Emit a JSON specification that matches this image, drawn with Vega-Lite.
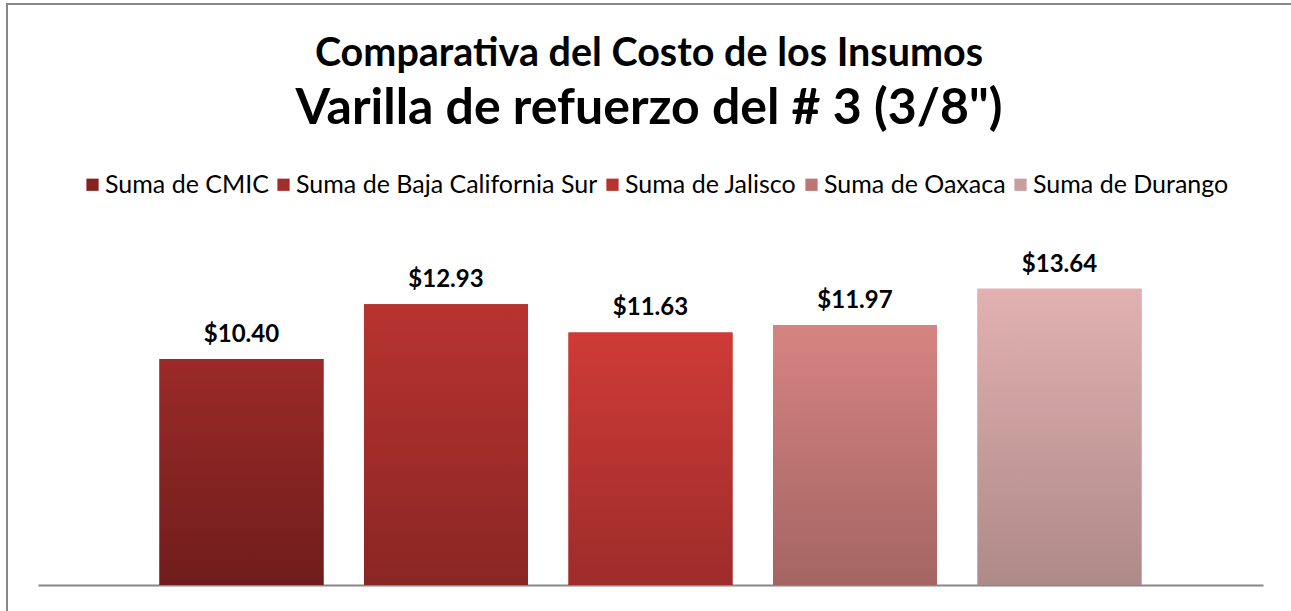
{
  "$schema": "https://vega.github.io/schema/vega-lite/v6.json",
  "width": 1284,
  "height": 607,
  "autosize": {"type": "none"},
  "padding": {"left": 7, "top": 4, "right": 0, "bottom": 0},
  "background": "white",
  "title": {
    "text": "Comparativa del Costo de los Insumos",
    "subtitle": "Varilla de refuerzo del # 3 (3/8\")",
    "anchor": "middle",
    "frame": "group",
    "offset": -131,
    "font": "Lato",
    "fontSize": 39.5,
    "fontWeight": "bold",
    "color": "#000000",
    "subtitleFont": "Lato",
    "subtitleFontSize": 50,
    "subtitleFontWeight": "bold",
    "subtitleColor": "#000000",
    "subtitlePadding": 10
  },
  "data": {
    "values": [
      {"serie": "Suma de CMIC", "valor": 10.40},
      {"serie": "Suma de Baja California Sur", "valor": 12.93},
      {"serie": "Suma de Jalisco", "valor": 11.63},
      {"serie": "Suma de Oaxaca", "valor": 11.97},
      {"serie": "Suma de Durango", "valor": 13.64}
    ]
  },
  "encoding": {
    "x": {
      "field": "serie",
      "type": "nominal",
      "sort": null,
      "scale": {
        "domain": ["Suma de CMIC", "Suma de Baja California Sur", "Suma de Jalisco", "Suma de Oaxaca", "Suma de Durango"],
        "range": [31, 1256], "paddingInner": 0.198, "paddingOuter": 0.594
      },
      "axis": {"labels": false, "ticks": false, "title": null, "domainColor": "#878787", "domainWidth": 2, "offset": -26, "grid": false}
    },
    "y": {
      "field": "valor",
      "type": "quantitative",
      "scale": {"domain": [0, 26.75], "range": [581, 0], "nice": false},
      "axis": null
    }
  },
  "layer": [
    {
      "mark": {"type": "bar"},
      "encoding": {
        "color": {
          "field": "serie",
          "type": "nominal",
          "sort": null,
          "scale": {
            "domain": ["Suma de CMIC", "Suma de Baja California Sur", "Suma de Jalisco", "Suma de Oaxaca", "Suma de Durango"],
            "range": ["#852322", "#A12D2A", "#B63430", "#BD7472", "#C89F9E"]
          },
          "legend": {
            "orient": "none",
            "legendX": 73,
            "legendY": 168,
            "direction": "horizontal",
            "title": null,
            "symbolType": "square",
            "symbolSize": 150,
            "symbolStrokeWidth": 0,
            "labelFont": "Lato",
            "labelFontSize": 25,
            "labelColor": "#000000",
            "labelOffset": 0,
            "columnPadding": 2,
            "padding": 0,
            "labelLimit": 0
          }
        }
      }
    },
    {
      "transform": [{"filter": "datum.serie === 'Suma de CMIC'"}],
      "mark": {"type": "bar", "color": {"gradient": "linear", "x1": 0, "y1": 0, "x2": 0, "y2": 1, "stops": [{"offset": 0, "color": "#9B2A28"}, {"offset": 1, "color": "#6F1D1C"}]}}
    },
    {
      "transform": [{"filter": "datum.serie === 'Suma de Baja California Sur'"}],
      "mark": {"type": "bar", "color": {"gradient": "linear", "x1": 0, "y1": 0, "x2": 0, "y2": 1, "stops": [{"offset": 0, "color": "#B83330"}, {"offset": 1, "color": "#8A2624"}]}}
    },
    {
      "transform": [{"filter": "datum.serie === 'Suma de Jalisco'"}],
      "mark": {"type": "bar", "color": {"gradient": "linear", "x1": 0, "y1": 0, "x2": 0, "y2": 1, "stops": [{"offset": 0, "color": "#CF3B37"}, {"offset": 1, "color": "#9D2C2A"}]}}
    },
    {
      "transform": [{"filter": "datum.serie === 'Suma de Oaxaca'"}],
      "mark": {"type": "bar", "color": {"gradient": "linear", "x1": 0, "y1": 0, "x2": 0, "y2": 1, "stops": [{"offset": 0, "color": "#D68482"}, {"offset": 1, "color": "#A46563"}]}}
    },
    {
      "transform": [{"filter": "datum.serie === 'Suma de Durango'"}],
      "mark": {"type": "bar", "color": {"gradient": "linear", "x1": 0, "y1": 0, "x2": 0, "y2": 1, "stops": [{"offset": 0, "color": "#E2B1B1"}, {"offset": 1, "color": "#AE8A88"}]}}
    },
    {
      "mark": {"type": "text", "baseline": "alphabetic", "dy": -17, "font": "Lato", "fontSize": 24, "fontWeight": "bold", "color": "#000000"},
      "encoding": {
        "text": {"field": "valor", "type": "quantitative", "format": "$.2f"}
      }
    }
  ],
  "config": {
    "view": {"stroke": "#878787", "strokeWidth": 2, "strokeDash": [1284, 1891, 607]},
    "font": "Lato"
  }
}
